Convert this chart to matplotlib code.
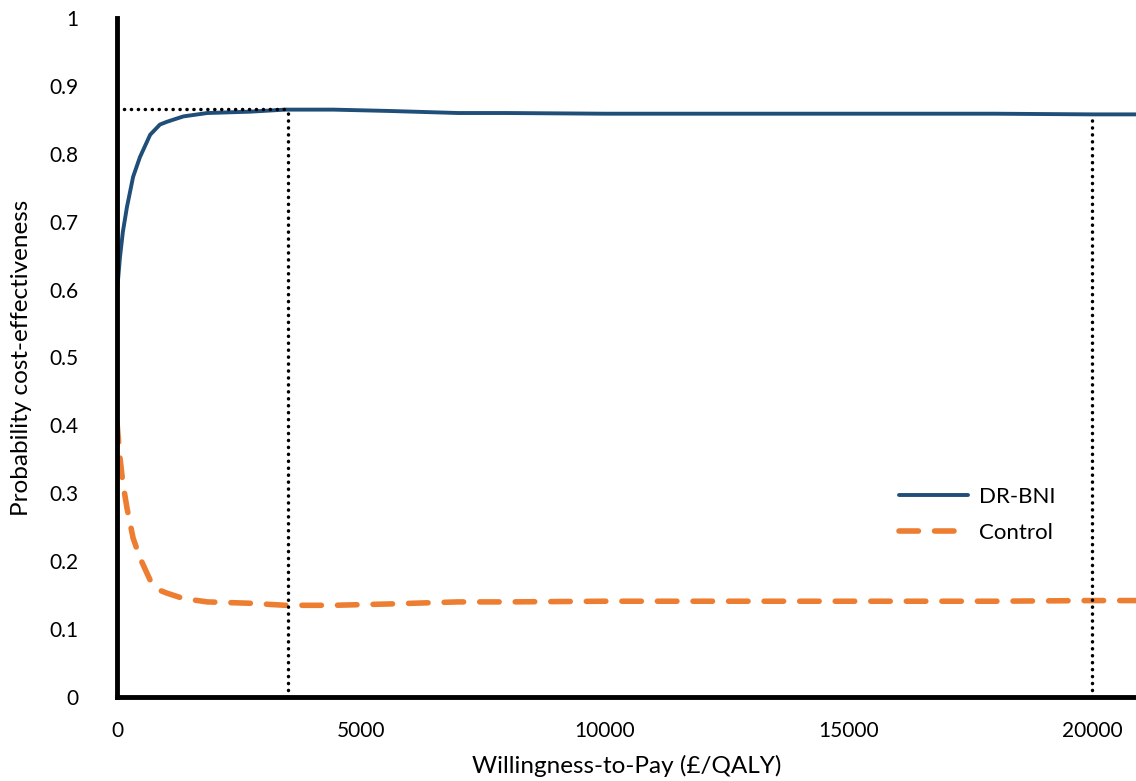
import matplotlib.pyplot as plt

plt.rcParams['font.family'] = ['Lato', 'DejaVu Sans']

# willingness-to-pay values (GBP/QALY)
wtp = [0, 60, 120, 205, 330, 470, 680, 880, 1020, 1360, 1850, 2730, 3450,
       4440, 5600, 7000, 8000, 10000, 12000, 15000, 18000, 20000, 20900]
dr_bni = [0.596, 0.647, 0.685, 0.722, 0.766, 0.795, 0.828, 0.843, 0.847, 0.855,
          0.860, 0.862, 0.865, 0.865, 0.863, 0.860, 0.860, 0.859, 0.859, 0.859,
          0.859, 0.858, 0.858]
control = [0.404, 0.353, 0.315, 0.278, 0.234, 0.205, 0.172, 0.157, 0.153, 0.145,
           0.140, 0.138, 0.135, 0.135, 0.137, 0.140, 0.140, 0.141, 0.141, 0.141,
           0.141, 0.142, 0.142]

peak_x = 3500
peak_y = 0.866
nice_x = 20000

fig = plt.figure(figsize=(11.36, 7.81), dpi=100)
ax = fig.add_axes([0.103, 0.1076, 0.897, 0.8694])

ax.plot(wtp, dr_bni, color="#1F4E79", lw=2.8, label="DR-BNI", solid_capstyle="round")
ax.plot(wtp, control, color="#ED7D31", lw=4.0, ls=(0, (3.5, 2.9)),
        dash_capstyle="round", label="Control")

dot = dict(color="black", lw=2.5, ls=(0, (0.05, 1.95)), dash_capstyle="round")
ax.plot([0, peak_x], [peak_y, peak_y], **dot)
ax.plot([peak_x, peak_x], [0, peak_y], **dot)
ax.plot([nice_x, nice_x], [0, 0.859], **dot)

ax.set_xlim(0, 20900)
ax.set_ylim(0, 1)
ax.set_xticks([0, 5000, 10000, 15000, 20000])
ax.set_yticks([0, 0.1, 0.2, 0.3, 0.4, 0.5, 0.6, 0.7, 0.8, 0.9, 1])
ax.set_yticklabels(["0", "0.1", "0.2", "0.3", "0.4", "0.5", "0.6", "0.7", "0.8", "0.9", "1"])
ax.tick_params(length=0, labelsize=15)
ax.tick_params(axis="x", pad=17)
ax.tick_params(axis="y", pad=28)

for s in ["top", "right"]:
    ax.spines[s].set_visible(False)
for s in ["left", "bottom"]:
    ax.spines[s].set_linewidth(3.5)
    ax.spines[s].set_zorder(5)

ax.set_xlabel("Willingness-to-Pay (£/QALY)", fontsize=17.5, labelpad=10)
ax.set_ylabel("Probability cost-effectiveness", fontsize=17.5, labelpad=12)

ax.legend(loc="lower right", bbox_to_anchor=(0.941, 0.197), frameon=False,
          fontsize=16, handlelength=3.1, handletextpad=0.5, labelspacing=0.75)

fig.savefig("out.png", dpi=100)
